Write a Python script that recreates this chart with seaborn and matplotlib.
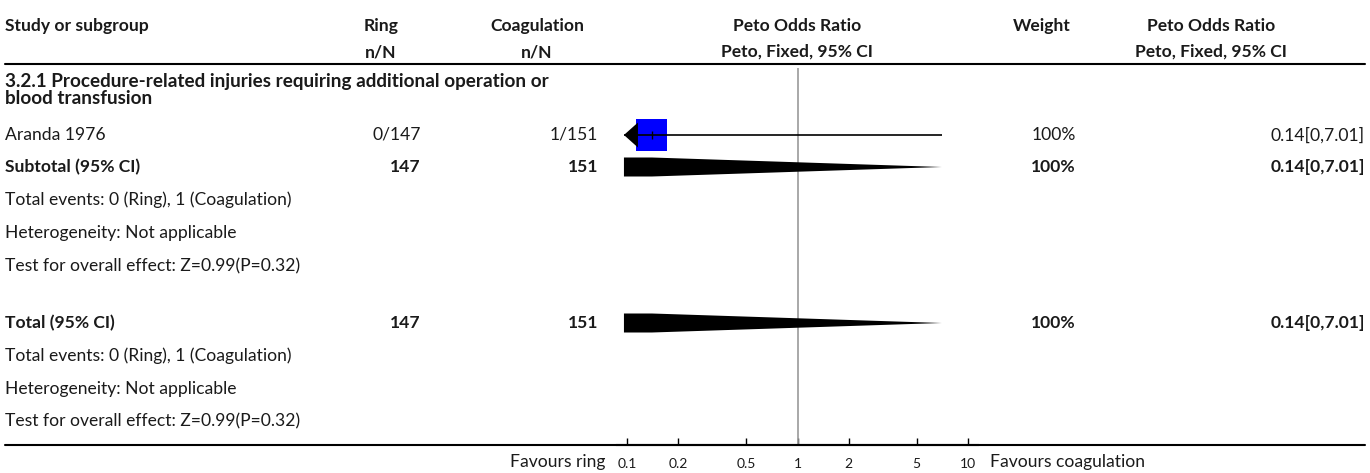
import numpy as np
import pandas as pd
import matplotlib
matplotlib.use("Agg")
import matplotlib.pyplot as plt
from matplotlib.patches import Polygon
from matplotlib.lines import Line2D
import seaborn as sns

# ---- data -------------------------------------------------------------
header_top = ["Study or subgroup", "Ring", "Coagulation", "Peto Odds Ratio", "Weight", "Peto Odds Ratio"]
header_sub = ["", "n/N", "n/N", "Peto, Fixed, 95% CI", "", "Peto, Fixed, 95% CI"]

group_title = ["3.2.1 Procedure-related injuries requiring additional operation or",
               "blood transfusion"]

studies = ["Aranda 1976"]
ring_events = [0]
ring_total = [147]
coag_events = [1]
coag_total = [151]
study_or = [0.14]
study_lo = [0.0]
study_hi = [7.01]
study_weight = ["100%"]

subtotal_label = "Subtotal (95% CI)"
subtotal_ring = 147
subtotal_coag = 151
subtotal_or, subtotal_lo, subtotal_hi = 0.14, 0.0, 7.01
subtotal_weight = "100%"

total_label = "Total (95% CI)"
total_ring = 147
total_coag = 151
total_or, total_lo, total_hi = 0.14, 0.0, 7.01
total_weight = "100%"

summary_lines = ["Total events: 0 (Ring), 1 (Coagulation)",
                 "Heterogeneity: Not applicable",
                 "Test for overall effect: Z=0.99(P=0.32)"]

axis_ticks = [0.1, 0.2, 0.5, 1, 2, 5, 10]
axis_tick_labels = ["0.1", "0.2", "0.5", "1", "2", "5", "10"]
favours_left = "Favours ring"
favours_right = "Favours coagulation"

# ---- figure setup -------------------------------------------------------
W, H, DPI = 1370, 473, 100
sns.set_theme(style="white")
plt.rcParams["font.family"] = ["Lato", "DejaVu Sans"]
plt.rcParams["text.color"] = "#1a1a1a"

fig = plt.figure(figsize=(W / DPI, H / DPI), dpi=DPI)
fig.patch.set_facecolor("white")

FS = 12.6


def px(x, y):
    """pixel position (from top-left) -> figure fraction"""
    return x / W, 1 - y / H


def put(x, y, s, ha="left", bold=False, size=FS):
    fx, fy = px(x, y)
    fig.text(fx, fy, s, ha=ha, va="center", fontsize=size,
             fontweight="bold" if bold else "normal", color="#1a1a1a")


# column anchors (pixels)
COL_STUDY = 5
COL_RING_HDR, COL_RING = 381, 421
COL_COAG_HDR, COL_COAG = 537, 598
COL_PLOT_HDR = 797
COL_W_HDR, COL_W = 1042, 1076
COL_EST_HDR, COL_EST = 1211, 1365

# ---- header ---------------------------------------------------------------
hdr_x = [COL_STUDY, COL_RING_HDR, COL_COAG_HDR, COL_PLOT_HDR, COL_W_HDR, COL_EST_HDR]
for i, (t, s) in enumerate(zip(header_top, header_sub)):
    ha = "left" if i == 0 else "center"
    put(hdr_x[i], 26, t, ha=ha, bold=True)
    if s:
        put(hdr_x[i], 52, s, ha=ha, bold=True)

fig.add_artist(Line2D([5 / W, 1365 / W], [1 - 64 / H, 1 - 64 / H],
                      color="black", lw=1.5, transform=fig.transFigure))
fig.add_artist(Line2D([5 / W, 1365 / W], [1 - 445 / H, 1 - 445 / H],
                      color="black", lw=1.5, transform=fig.transFigure))

# ---- rows ---------------------------------------------------------------
Y_TITLE = [81, 98]
Y_STUDY = [135]
Y_SUB = 167
Y_SUB_NOTES = [200, 233, 266]
Y_TOT = 323
Y_TOT_NOTES = [356, 389, 421]

for y, t in zip(Y_TITLE, group_title):
    put(COL_STUDY, y, t, bold=True, size=13.6)


def fmt_ci(est, lo, hi):
    def f(v):
        return ("%.2f" % v).rstrip("0").rstrip(".") if v != 0 else "0"
    return "%s[%s,%s]" % (f(est), f(lo), f(hi))


for y, name, re_, rt, ce, ct, w, e, lo, hi in zip(Y_STUDY, studies, ring_events, ring_total,
                                                  coag_events, coag_total, study_weight,
                                                  study_or, study_lo, study_hi):
    put(COL_STUDY, y, name)
    put(COL_RING, y, f"{re_}/{rt}", ha="right")
    put(COL_COAG, y, f"{ce}/{ct}", ha="right")
    put(COL_W, y, w, ha="right")
    put(COL_EST, y, fmt_ci(e, lo, hi), ha="right")

for y, lab, r, c, w, e, lo, hi, notes_y in [
        (Y_SUB, subtotal_label, subtotal_ring, subtotal_coag, subtotal_weight,
         subtotal_or, subtotal_lo, subtotal_hi, Y_SUB_NOTES),
        (Y_TOT, total_label, total_ring, total_coag, total_weight,
         total_or, total_lo, total_hi, Y_TOT_NOTES)]:
    put(COL_STUDY, y, lab, bold=True)
    put(COL_RING, y, str(r), ha="right", bold=True)
    put(COL_COAG, y, str(c), ha="right", bold=True)
    put(COL_W, y, w, ha="right", bold=True)
    put(COL_EST, y, fmt_ci(e, lo, hi), ha="right", bold=True)
    for ny, s in zip(notes_y, summary_lines):
        put(COL_STUDY, ny, s)

# ---- forest panel (log scale) ---------------------------------------------
AX_L, AX_R, AX_B = 617, 978, 445
ax = fig.add_axes([AX_L / W, (H - AX_B) / H, (AX_R - AX_L) / W, AX_B / H])
ax.set_xscale("log")
ax.set_xlim(0.0874, 11.44)
ax.set_ylim(AX_B, 0)
ax.patch.set_alpha(0)
for side in ["left", "right", "top"]:
    ax.spines[side].set_visible(False)
ax.spines["bottom"].set_color("black")
ax.spines["bottom"].set_linewidth(1.5)

# line of no effect
ax.vlines(1, 68, AX_B, color="#999999", lw=1.2, zorder=1)

clip_lo = 0.096  # smallest value drawn inside the panel

# study marks: square, CI line, point tick, arrow where CI leaves the panel
df = pd.DataFrame({"y": Y_STUDY, "or": study_or, "lo": study_lo, "hi": study_hi})
sns.scatterplot(data=df, x="or", y="y", marker="s", s=500, color="#0000ff",
                edgecolor="none", ax=ax, zorder=2, legend=False)
for _, r in df.iterrows():
    lo_d = max(r["lo"], clip_lo)
    ax.hlines(r["y"], lo_d, r["hi"], color="black", lw=1.2, zorder=3)
    ax.vlines(r["or"], r["y"] - 4, r["y"] + 4, color="black", lw=1.0, zorder=3)
    if r["lo"] < clip_lo:
        base = clip_lo * 10 ** (14 / 170.5)
        ax.add_patch(Polygon([(clip_lo, r["y"]), (base, r["y"] - 12.5), (base, r["y"] + 12.5)],
                             closed=True, facecolor="black", edgecolor="none", zorder=4))

# pooled diamonds
for y, e, lo, hi in [(Y_SUB, subtotal_or, subtotal_lo, subtotal_hi),
                     (Y_TOT, total_or, total_lo, total_hi)]:
    h = 9.5
    lo_d = max(lo, clip_lo)
    pts = [(lo_d, y - h), (e, y - h), (hi, y), (e, y + h), (lo_d, y + h)]
    ax.add_patch(Polygon(pts, closed=True, facecolor="black", edgecolor="none", zorder=4))

ax.set_xlabel("")
ax.set_ylabel("")
ax.set_xscale("log")
ax.set_xlim(0.0874, 11.44)
ax.set_ylim(AX_B, 0)
ax.set_yticks([])
ax.set_xticks(axis_ticks)
ax.set_xticklabels(axis_tick_labels)
ax.minorticks_off()
ax.tick_params(axis="x", direction="in", length=5, width=1, colors="black",
               labelsize=10, labelcolor="#1a1a1a", pad=9, bottom=True)

# favours labels
put(605, 462, favours_left, ha="right")
put(990, 462, favours_right, ha="left")

fig.savefig("out.png", dpi=DPI, facecolor="white")
